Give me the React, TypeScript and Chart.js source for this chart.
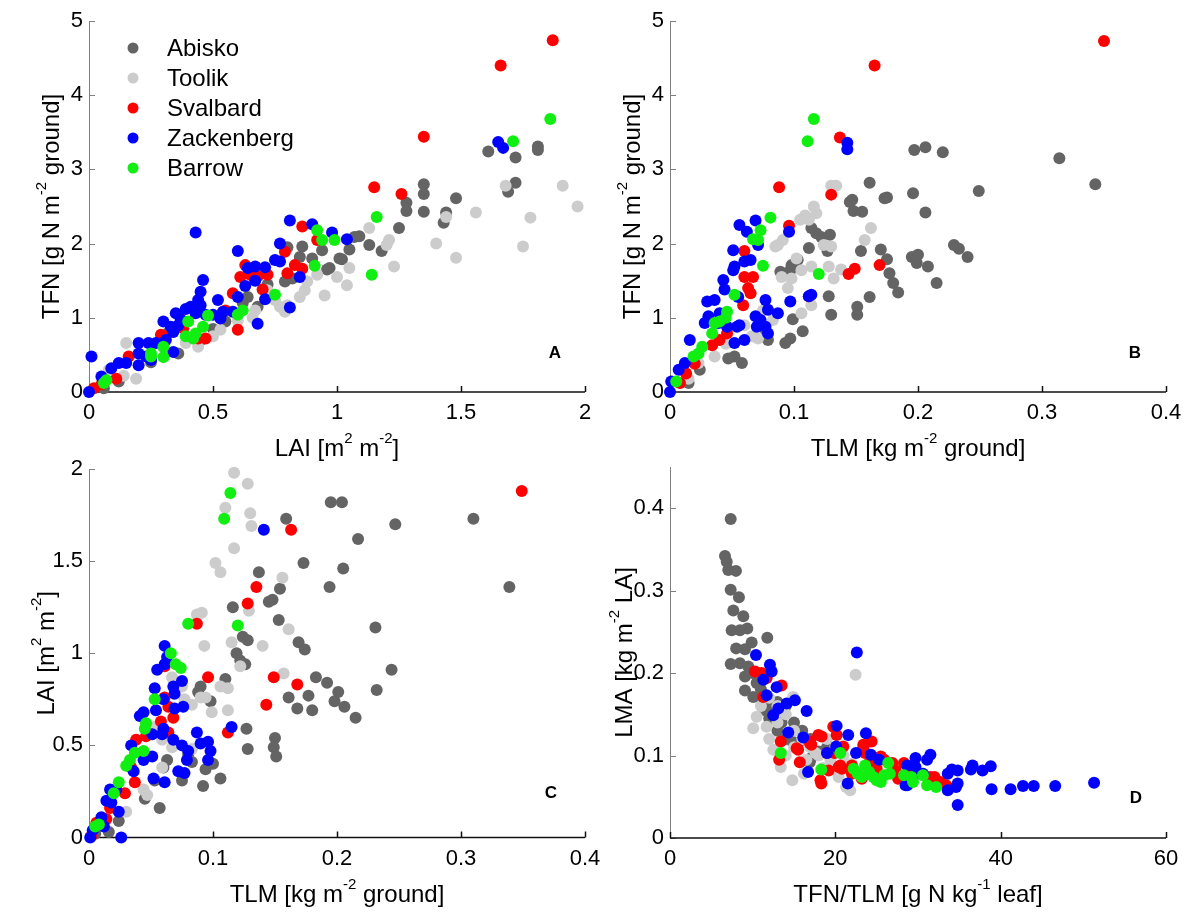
import React, { useEffect, useRef } from 'react';
import { Chart, registerables } from 'chart.js';
Chart.register(...registerables);

const FONT = '"Liberation Sans", Arial, Helvetica, sans-serif';
const PAGE_W = 1199;
const PAGE_H = 912;

const siteNames = ['Abisko', 'Toolik', 'Svalbard', 'Zackenberg', 'Barrow'];
const siteColors = ['#646464', '#cccccc', '#ff0000', '#0000ff', '#11ee11'];

// ---------- Panel A: LAI (x) vs TFN (y)
const abiskoA = [[1.61,3.24],[1.72,3.16],[1.81,3.31],[1.81,3.26],[1.72,2.82],[1.69,2.70],[1.35,2.80],[1.35,2.67],[1.28,2.55],[1.28,2.44],[1.35,2.43],[1.48,2.61],[1.44,2.42],[1.43,2.28],[1.25,2.21],[1.09,2.10],[1.07,2.09],[1.13,1.98],[1.18,1.90],[1.05,1.92],[1.01,1.80],[0.97,1.67],[1.02,1.79],[0.94,1.91],[0.90,1.80],[0.96,1.65],[0.86,1.96],[0.85,1.82],[0.80,1.95],[0.79,1.49],[0.82,1.53],[0.64,1.28],[0.68,1.15],[0.32,0.80],[0.36,0.52],[0.12,0.14],[0.50,0.85],[0.45,0.70],[0.55,0.95],[0.25,0.40],[0.06,0.05],[0.62,1.20],[0.72,1.45],[0.40,0.72]];
const toolikA = [[1.68,2.78],[1.91,2.78],[1.97,2.50],[1.78,2.35],[1.75,1.96],[1.56,2.42],[1.40,2.00],[1.48,1.81],[1.23,1.69],[1.21,2.05],[1.20,1.98],[1.13,2.21],[1.05,1.67],[1.44,2.36],[1.04,1.44],[0.92,1.58],[0.88,1.49],[0.87,1.37],[0.85,1.28],[0.80,1.17],[0.79,1.08],[0.77,1.15],[0.75,1.24],[0.72,1.37],[0.67,1.10],[0.66,1.00],[0.60,0.96],[0.53,0.84],[0.44,0.61],[0.39,0.66],[0.15,0.66],[0.19,0.18],[0.14,0.22],[0.08,0.30],[0.30,0.60],[0.50,0.75],[0.95,1.30],[1.00,1.55]];
const svalbardA = [[1.87,4.74],[1.66,4.40],[1.35,3.44],[1.15,2.76],[1.26,2.67],[0.92,2.05],[0.86,2.23],[0.79,1.89],[0.83,1.71],[0.86,1.66],[0.80,1.60],[0.70,1.38],[0.63,1.71],[0.61,1.55],[0.65,1.58],[0.68,1.56],[0.72,1.58],[0.58,1.33],[0.60,0.84],[0.55,1.10],[0.47,0.72],[0.44,0.72],[0.30,0.75],[0.38,0.86],[0.16,0.48],[0.29,0.77],[0.11,0.18],[0.02,0.05],[0.05,0.10]];
const zackenbergA = [[1.65,3.37],[1.67,3.29],[0.98,2.15],[1.04,2.06],[0.90,2.26],[0.81,2.31],[0.77,2.00],[0.75,1.78],[0.77,1.76],[0.85,1.55],[0.81,1.14],[0.71,1.25],[0.67,1.69],[0.64,1.67],[0.71,1.68],[0.67,1.50],[0.63,1.43],[0.60,1.28],[0.68,0.92],[0.58,1.08],[0.60,1.90],[0.52,1.24],[0.50,1.04],[0.53,0.99],[0.54,1.08],[0.43,2.15],[0.46,1.51],[0.45,1.35],[0.44,1.24],[0.41,1.15],[0.45,1.17],[0.43,1.06],[0.47,1.04],[0.35,1.06],[0.30,0.95],[0.33,0.88],[0.36,0.90],[0.34,0.81],[0.31,0.70],[0.27,0.66],[0.24,0.66],[0.20,0.66],[0.20,0.52],[0.23,0.48],[0.25,0.43],[0.34,0.54],[0.20,0.36],[0.15,0.39],[0.12,0.39],[0.09,0.32],[0.05,0.21],[0.01,0.48],[0.00,0.00],[0.39,1.12],[0.37,0.98]];
const barrowA = [[1.86,3.68],[1.71,3.38],[1.16,2.36],[1.14,1.58],[0.99,2.05],[0.94,2.05],[0.92,2.18],[0.91,1.70],[0.75,1.31],[0.62,1.10],[0.60,1.04],[0.48,1.03],[0.40,0.95],[0.46,0.88],[0.43,0.79],[0.39,0.75],[0.42,0.72],[0.30,0.61],[0.30,0.47],[0.25,0.52],[0.25,0.48],[0.07,0.16],[0.06,0.12]];

// ---------- Panel B: TLM (x) vs TFN (y)
const abiskoB = [[0.197,3.26],[0.206,3.30],[0.220,3.23],[0.314,3.15],[0.343,2.80],[0.249,2.71],[0.161,2.82],[0.175,2.62],[0.196,2.68],[0.147,2.59],[0.145,2.56],[0.148,2.44],[0.155,2.43],[0.173,2.61],[0.206,2.42],[0.229,1.98],[0.233,1.93],[0.240,1.82],[0.114,2.21],[0.122,2.09],[0.129,2.12],[0.118,2.14],[0.112,1.94],[0.127,1.90],[0.154,1.90],[0.170,1.92],[0.175,1.79],[0.195,1.82],[0.200,1.85],[0.199,1.74],[0.208,1.69],[0.215,1.47],[0.098,1.71],[0.097,1.64],[0.103,1.78],[0.089,1.62],[0.177,1.60],[0.180,1.47],[0.184,1.34],[0.161,1.28],[0.151,1.15],[0.151,1.04],[0.130,1.04],[0.128,1.29],[0.107,0.82],[0.099,0.98],[0.097,0.72],[0.093,0.66],[0.079,0.70],[0.077,0.84],[0.058,0.39],[0.052,0.48],[0.047,0.45],[0.024,0.30],[0.015,0.12]];
const toolikB = [[0.130,2.78],[0.134,2.78],[0.116,2.50],[0.118,2.41],[0.109,2.38],[0.105,2.32],[0.112,2.32],[0.087,1.98],[0.091,2.05],[0.085,1.96],[0.130,1.96],[0.124,1.98],[0.157,2.05],[0.162,2.21],[0.132,1.53],[0.138,1.65],[0.128,1.69],[0.114,1.69],[0.090,1.55],[0.098,1.53],[0.102,1.80],[0.106,1.64],[0.106,1.06],[0.114,1.17],[0.083,0.97],[0.071,0.72],[0.066,0.75],[0.036,0.48],[0.023,0.39],[0.095,1.40],[0.075,1.10],[0.060,0.90],[0.045,0.65],[0.015,0.18]];
const svalbardB = [[0.350,4.73],[0.165,4.40],[0.137,3.43],[0.088,2.76],[0.130,2.66],[0.096,2.24],[0.060,1.90],[0.169,1.71],[0.149,1.66],[0.144,1.59],[0.112,1.29],[0.060,1.55],[0.067,1.55],[0.063,1.40],[0.065,1.33],[0.059,1.17],[0.046,0.79],[0.040,0.70],[0.034,0.63],[0.013,0.25],[0.020,0.38],[0.008,0.12]];
const zackenbergB = [[0.143,3.36],[0.143,3.27],[0.096,2.16],[0.056,2.25],[0.069,2.31],[0.062,2.16],[0.071,1.98],[0.051,1.91],[0.114,1.31],[0.112,1.29],[0.097,1.22],[0.087,1.06],[0.077,1.24],[0.079,1.11],[0.073,0.97],[0.077,0.88],[0.079,0.79],[0.070,0.88],[0.060,0.70],[0.052,0.66],[0.056,0.90],[0.069,1.02],[0.055,1.28],[0.052,1.69],[0.060,1.76],[0.065,1.78],[0.051,1.64],[0.043,1.51],[0.044,1.38],[0.036,1.24],[0.030,1.22],[0.031,1.02],[0.028,0.93],[0.039,0.93],[0.046,0.88],[0.054,0.88],[0.040,1.06],[0.016,0.70],[0.012,0.39],[0.007,0.30],[0.001,0.14],[0.000,0.00]];
const barrowB = [[0.116,3.68],[0.111,3.38],[0.081,2.35],[0.073,2.18],[0.067,2.06],[0.071,2.05],[0.120,1.59],[0.075,1.70],[0.052,1.31],[0.046,1.08],[0.036,0.93],[0.034,0.79],[0.026,0.61],[0.023,0.52],[0.019,0.48],[0.005,0.14],[0.045,1.00],[0.040,0.95]];

// ---------- Panel C: TLM (x) vs LAI (y)
const abiskoC = [[0.310,1.73],[0.339,1.36],[0.247,1.70],[0.195,1.82],[0.204,1.82],[0.159,1.73],[0.217,1.62],[0.173,1.49],[0.205,1.46],[0.137,1.44],[0.154,1.35],[0.194,1.36],[0.145,1.28],[0.148,1.29],[0.116,1.25],[0.153,1.18],[0.231,1.14],[0.244,0.91],[0.232,0.80],[0.124,1.09],[0.128,1.07],[0.169,1.06],[0.174,1.02],[0.119,1.00],[0.122,0.96],[0.126,0.94],[0.090,0.82],[0.088,0.79],[0.098,0.74],[0.110,0.86],[0.183,0.87],[0.192,0.84],[0.201,0.79],[0.161,0.76],[0.177,0.77],[0.168,0.70],[0.180,0.69],[0.198,0.74],[0.206,0.71],[0.215,0.65],[0.127,0.59],[0.128,0.48],[0.150,0.54],[0.149,0.49],[0.151,0.44],[0.106,0.32],[0.092,0.28],[0.057,0.16],[0.094,0.37],[0.100,0.40],[0.080,0.45],[0.075,0.31],[0.083,0.41],[0.063,0.42],[0.060,0.38],[0.053,0.31],[0.045,0.21],[0.024,0.09],[0.016,0.03],[0.005,0.02]];
const toolikC = [[0.117,1.98],[0.128,1.92],[0.110,1.79],[0.130,1.76],[0.131,1.69],[0.117,1.57],[0.102,1.49],[0.106,1.44],[0.156,1.41],[0.129,1.23],[0.161,1.13],[0.087,1.21],[0.091,1.22],[0.115,1.06],[0.140,1.04],[0.093,1.04],[0.122,0.93],[0.067,0.87],[0.157,0.89],[0.106,0.82],[0.112,0.81],[0.094,0.76],[0.090,0.76],[0.083,0.72],[0.112,0.69],[0.099,0.68],[0.067,0.49],[0.083,0.48],[0.059,0.53],[0.044,0.26],[0.030,0.14],[0.047,0.23],[0.059,0.38],[0.053,0.60],[0.075,0.82],[0.077,0.75]];
const svalbardC = [[0.349,1.88],[0.163,1.67],[0.135,1.36],[0.128,1.27],[0.087,1.16],[0.061,0.93],[0.096,0.87],[0.149,0.87],[0.168,0.83],[0.143,0.72],[0.112,0.57],[0.061,0.76],[0.064,0.71],[0.068,0.65],[0.064,0.57],[0.058,0.63],[0.038,0.53],[0.046,0.55],[0.034,0.38],[0.037,0.30],[0.029,0.24],[0.017,0.16],[0.014,0.10],[0.006,0.08],[0.002,0.01]];
const zackenbergC = [[0.141,1.67],[0.061,1.04],[0.063,0.98],[0.055,0.91],[0.061,0.94],[0.075,0.85],[0.115,0.60],[0.087,0.57],[0.090,0.51],[0.096,0.52],[0.098,0.47],[0.096,0.42],[0.080,0.47],[0.079,0.42],[0.072,0.36],[0.077,0.35],[0.075,0.50],[0.068,0.53],[0.051,0.44],[0.044,0.42],[0.052,0.32],[0.061,0.30],[0.036,0.36],[0.034,0.50],[0.041,0.66],[0.044,0.68],[0.054,0.69],[0.069,0.70],[0.051,0.56],[0.059,0.56],[0.060,0.59],[0.076,0.71],[0.068,0.82],[0.069,0.78],[0.060,0.75],[0.053,0.81],[0.022,0.26],[0.017,0.26],[0.014,0.20],[0.018,0.19],[0.024,0.14],[0.010,0.11],[0.012,0.06],[0.003,0.04],[0.001,0.00],[0.026,0.00]];
const barrowC = [[0.114,1.87],[0.109,1.73],[0.080,1.16],[0.120,1.15],[0.066,1.00],[0.070,0.94],[0.074,0.92],[0.053,0.75],[0.046,0.62],[0.045,0.59],[0.044,0.47],[0.037,0.46],[0.033,0.42],[0.030,0.39],[0.024,0.30],[0.020,0.24],[0.008,0.07],[0.005,0.06]];

// ---------- Panel D: TFN/TLM (x) vs LMA (y)
const abiskoD = [[7.34,0.387],[6.65,0.342],[6.86,0.335],[7.05,0.325],[7.98,0.324],[7.34,0.301],[8.34,0.292],[7.66,0.276],[8.87,0.269],[7.46,0.252],[8.46,0.252],[9.35,0.254],[9.88,0.237],[11.77,0.243],[9.07,0.229],[7.34,0.211],[8.46,0.212],[9.47,0.208],[9.07,0.196],[9.07,0.179],[10.07,0.171],[10.48,0.188],[10.88,0.171],[12.09,0.163],[14.8,0.117],[17.1,0.097],[16.9,0.092],[12.5,0.150],[13.0,0.130],[14.0,0.120],[15.0,0.140],[16.0,0.130],[14.0,0.160],[13.5,0.140],[17.0,0.120],[19.0,0.110],[11.5,0.155],[12.0,0.145],[15.5,0.115],[18.0,0.105],[8.0,0.230],[10.0,0.200],[11.0,0.180],[13.0,0.165]];
const toolikD = [[22.45,0.198],[14.91,0.171],[10.48,0.147],[11.69,0.135],[10.07,0.133],[14.8,0.070],[13.4,0.086],[12.5,0.107],[21.3,0.062],[21.8,0.058],[20.4,0.074],[19.4,0.095],[17.6,0.103],[16.2,0.078],[13.0,0.160],[14.0,0.150],[15.0,0.130],[16.0,0.120],[17.0,0.110],[18.0,0.100],[19.0,0.120],[20.0,0.110],[21.0,0.100],[22.0,0.090],[12.0,0.170],[11.0,0.160],[13.0,0.140],[15.0,0.110],[16.5,0.095],[18.5,0.085],[12.0,0.120],[14.0,0.100]];
const svalbardD = [[10.28,0.202],[11.09,0.200],[11.69,0.194],[13.5,0.185],[11.29,0.171],[19.75,0.135],[20.16,0.125],[17.94,0.125],[18.34,0.123],[24.39,0.117],[23.38,0.113],[16.93,0.115],[15.32,0.109],[20.96,0.111],[33.4,0.064],[32.7,0.068],[32.0,0.074],[31.5,0.074],[28.7,0.078],[28.3,0.091],[27.3,0.082],[26.9,0.091],[27.6,0.072],[25.9,0.095],[25.5,0.099],[25.0,0.084],[24.1,0.091],[23.6,0.103],[23.4,0.110],[22.0,0.088],[22.0,0.078],[20.6,0.088],[20.8,0.084],[19.2,0.082],[18.2,0.070],[18.3,0.066],[15.7,0.092],[15.5,0.107],[13.2,0.095],[13.4,0.117],[16.9,0.117],[17.1,0.113],[19.0,0.103],[19.9,0.103],[20.4,0.086],[23.2,0.072]];
const zackenbergD = [[10.4,0.222],[12.09,0.210],[12.3,0.202],[11.29,0.192],[12.9,0.183],[11.69,0.173],[22.6,0.225],[14.11,0.163],[15.11,0.167],[13.10,0.157],[12.49,0.149],[16.53,0.154],[14.31,0.128],[16.12,0.122],[20.16,0.136],[21.56,0.125],[23.7,0.127],[51.3,0.067],[46.6,0.063],[44.0,0.063],[42.7,0.063],[41.2,0.059],[38.9,0.059],[38.8,0.087],[37.8,0.082],[36.6,0.088],[36.4,0.083],[34.8,0.040],[34.8,0.082],[34.1,0.083],[33.6,0.078],[34.8,0.066],[33.6,0.058],[34.6,0.062],[31.5,0.101],[31.1,0.095],[29.7,0.097],[29.7,0.086],[28.7,0.088],[28.5,0.064],[29.4,0.074],[30.6,0.078],[16.7,0.080],[19.0,0.103],[20.1,0.111],[22.5,0.103],[21.5,0.066],[24.3,0.101],[25.3,0.095],[28.7,0.064]];
const barrowD = [[13.4,0.103],[18.3,0.083],[20.6,0.103],[22.2,0.084],[22.7,0.078],[23.6,0.088],[23.2,0.074],[24.1,0.080],[24.6,0.074],[25.0,0.070],[25.5,0.068],[25.9,0.076],[26.4,0.091],[26.6,0.078],[28.3,0.076],[29.2,0.074],[29.4,0.068],[30.6,0.076],[31.1,0.064],[32.2,0.062]];

// ---------- tick values
const ticksLAI2 = [0, 0.5, 1, 1.5, 2];
const ticksTFN = [0, 1, 2, 3, 4, 5];
const ticksTLM = [0, 0.1, 0.2, 0.3, 0.4];
const ticksLAIy = [0, 0.5, 1, 1.5, 2];
const ticksRatio = [0, 20, 40, 60];
const ticksLMA = [0, 0.1, 0.2, 0.3, 0.4];

type Part = { t: string; s?: boolean };
const titleLAI: Part[] = [{ t: 'LAI [m' }, { t: '2', s: true }, { t: ' m' }, { t: '-2', s: true }, { t: ']' }];
const titleTFN: Part[] = [{ t: 'TFN [g N m' }, { t: '-2', s: true }, { t: ' ground]' }];
const titleTLM: Part[] = [{ t: 'TLM [kg m' }, { t: '-2', s: true }, { t: ' ground]' }];
const titleRatio: Part[] = [{ t: 'TFN/TLM [g N kg' }, { t: '-1', s: true }, { t: ' leaf]' }];
const titleLMA: Part[] = [{ t: 'LMA [kg m' }, { t: '-2', s: true }, { t: ' LA]' }];

const TICK_SIZE = 22;
const TITLE_SIZE = 24;
const SUP_SIZE = 15;
const SUP_RAISE = 13;
const LEGEND_SIZE = 24;
const Y_TICK_PAD = 6;

function drawRich(ctx: CanvasRenderingContext2D, parts: Part[], x: number, y: number, rotate: boolean) {
  ctx.save();
  ctx.translate(x, y);
  if (rotate) ctx.rotate(-Math.PI / 2);
  ctx.textBaseline = 'alphabetic';
  ctx.textAlign = 'left';
  ctx.fillStyle = '#000';
  const widths: number[] = [];
  let total = 0;
  parts.forEach((p) => {
    ctx.font = `${p.s ? SUP_SIZE : TITLE_SIZE}px ${FONT}`;
    const w = ctx.measureText(p.t).width;
    widths.push(w);
    total += w;
  });
  let cx = -total / 2;
  parts.forEach((p, i) => {
    ctx.font = `${p.s ? SUP_SIZE : TITLE_SIZE}px ${FONT}`;
    ctx.fillText(p.t, cx, p.s ? -SUP_RAISE : 0);
    cx += widths[i];
  });
  ctx.restore();
}

interface PanelCfg {
  area: { l: number; r: number; t: number; b: number };
  xMin: number; xMax: number; xTicks: number[];
  yMin: number; yMax: number; yTicks: number[];
  xTitle: Part[]; yTitle: Part[]; yTitleGap: number;
  letter: string; letterPos: [number, number];
  legend: boolean;
  series: number[][][];
}

const panels: PanelCfg[] = [
  { area: { l: 89, r: 585, t: 21, b: 392 }, xMin: 0, xMax: 2, xTicks: ticksLAI2, yMin: 0, yMax: 5, yTicks: ticksTFN, xTitle: titleLAI, yTitle: titleTFN, yTitleGap: 30, letter: 'A', letterPos: [555, 353], legend: true, series: [abiskoA, toolikA, svalbardA, zackenbergA, barrowA] },
  { area: { l: 670, r: 1166, t: 21, b: 392 }, xMin: 0, xMax: 0.4, xTicks: ticksTLM, yMin: 0, yMax: 5, yTicks: ticksTFN, xTitle: titleTLM, yTitle: titleTFN, yTitleGap: 30, letter: 'B', letterPos: [1135, 353], legend: false, series: [abiskoB, toolikB, svalbardB, zackenbergB, barrowB] },
  { area: { l: 89, r: 585, t: 469, b: 837.5 }, xMin: 0, xMax: 0.4, xTicks: ticksTLM, yMin: 0, yMax: 2, yTicks: ticksLAIy, xTitle: titleTLM, yTitle: titleLAI, yTitleGap: 35, letter: 'C', letterPos: [551, 793], legend: false, series: [abiskoC, toolikC, svalbardC, zackenbergC, barrowC] },
  { area: { l: 670, r: 1166, t: 467, b: 838 }, xMin: 0, xMax: 60, xTicks: ticksRatio, yMin: 0, yMax: 0.45, yTicks: ticksLMA, xTitle: titleRatio, yTitle: titleLMA, yTitleGap: 38, letter: 'D', letterPos: [1136, 798], legend: false, series: [abiskoD, toolikD, svalbardD, zackenbergD, barrowD] },
];

const Y_SCALE_W = 80;
const X_SCALE_H = 60;
const fmt = (v: number) => String(Number(Number(v).toFixed(4)));

function Panel({ cfg }: { cfg: PanelCfg }) {
  const ref = useRef<HTMLCanvasElement | null>(null);
  useEffect(() => {
    if (!ref.current) return;
    const { area } = cfg;
    const decor = {
      id: 'decor',
      beforeDatasetsDraw(chart: any) {
        const ctx = chart.ctx as CanvasRenderingContext2D;
        const ca = chart.chartArea;
        const xs = chart.scales.x;
        const ys = chart.scales.y;
        ctx.save();
        ctx.strokeStyle = '#808080';
        ctx.lineWidth = 1;
        ctx.beginPath();
        ctx.moveTo(Math.round(ca.left) + 0.5, ca.top);
        ctx.lineTo(Math.round(ca.left) + 0.5, ca.bottom);
        cfg.yTicks.forEach((v) => {
          const py = Math.round(ys.getPixelForValue(v)) + 0.5;
          ctx.moveTo(ca.left, py);
          ctx.lineTo(ca.left + 6, py);
        });
        ctx.stroke();
        ctx.strokeStyle = '#111';
        ctx.lineWidth = 1.5;
        ctx.beginPath();
        ctx.moveTo(ca.left, ca.bottom);
        ctx.lineTo(ca.right, ca.bottom);
        cfg.xTicks.forEach((v) => {
          const px = Math.round(xs.getPixelForValue(v)) + 0.5;
          ctx.moveTo(px, ca.bottom);
          ctx.lineTo(px, ca.bottom - 6);
        });
        ctx.stroke();
        ctx.restore();
      },
      afterDraw(chart: any) {
        const ctx = chart.ctx as CanvasRenderingContext2D;
        const ca = chart.chartArea;
        drawRich(ctx, cfg.xTitle, (ca.left + ca.right) / 2, ca.bottom + 64, false);
        drawRich(ctx, cfg.yTitle, ca.left - cfg.yTitleGap, (ca.top + ca.bottom) / 2, true);
        ctx.save();
        ctx.fillStyle = '#000';
        ctx.font = `bold 17px ${FONT}`;
        ctx.textAlign = 'center';
        ctx.textBaseline = 'middle';
        ctx.fillText(cfg.letter, cfg.letterPos[0], cfg.letterPos[1]);
        if (cfg.legend) {
          ctx.font = `${LEGEND_SIZE}px ${FONT}`;
          ctx.textAlign = 'left';
          siteNames.forEach((name, i) => {
            const yy = 48 + i * 30;
            ctx.fillStyle = siteColors[i];
            ctx.beginPath();
            ctx.arc(133, yy, 5.5, 0, Math.PI * 2);
            ctx.fill();
            ctx.fillStyle = '#000';
            ctx.fillText(name, 167, yy + 1);
          });
        }
        ctx.restore();
      },
    };
    const zeroPad = (s: any) => {
      s.paddingTop = 0; s.paddingBottom = 0; s.paddingLeft = 0; s.paddingRight = 0;
    };
    const chart = new Chart(ref.current, {
      type: 'scatter',
      data: {
        datasets: cfg.series.map((pts, i) => ({
          label: siteNames[i],
          data: pts.map(([x, y]) => ({ x, y })),
          backgroundColor: siteColors[i],
          borderColor: siteColors[i],
          borderWidth: 0,
          pointRadius: 6,
          pointHoverRadius: 6,
          order: 5 - i,
          clip: false as any,
        })),
      },
      options: {
        animation: false,
        responsive: false,
        devicePixelRatio: 1,
        events: [],
        layout: {
          padding: {
            left: area.l - Y_SCALE_W,
            top: area.t,
            right: PAGE_W - area.r,
            bottom: PAGE_H - area.b - X_SCALE_H,
          },
        },
        plugins: { legend: { display: false }, tooltip: { enabled: false } },
        scales: {
          x: {
            type: 'linear', min: cfg.xMin, max: cfg.xMax,
            grid: { display: false, drawTicks: false },
            border: { display: false },
            ticks: { color: '#000', font: { family: FONT, size: TICK_SIZE }, padding: 8, maxRotation: 0, autoSkip: false, callback: (v: any) => fmt(v) },
            afterBuildTicks: (s: any) => { s.ticks = cfg.xTicks.map((v) => ({ value: v })); },
            afterFit: (s: any) => { s.height = X_SCALE_H; zeroPad(s); },
          },
          y: {
            type: 'linear', min: cfg.yMin, max: cfg.yMax,
            grid: { display: false, drawTicks: false },
            border: { display: false },
            ticks: { color: '#000', font: { family: FONT, size: TICK_SIZE }, padding: Y_TICK_PAD, autoSkip: false, callback: (v: any) => fmt(v) },
            afterBuildTicks: (s: any) => { s.ticks = cfg.yTicks.map((v) => ({ value: v })); },
            afterFit: (s: any) => { s.width = Y_SCALE_W; zeroPad(s); },
          },
        },
      },
      plugins: [decor],
    } as any);
    return () => chart.destroy();
  }, [cfg]);
  return (
    <canvas
      ref={ref}
      width={PAGE_W}
      height={PAGE_H}
      style={{ position: 'absolute', left: 0, top: 0, width: PAGE_W, height: PAGE_H }}
    />
  );
}

export default function App() {
  return (
    <div style={{ position: 'absolute', left: 0, top: 0, width: PAGE_W, height: PAGE_H, background: '#fff', overflow: 'hidden' }}>
      {panels.map((p, i) => (
        <Panel key={i} cfg={p} />
      ))}
    </div>
  );
}
